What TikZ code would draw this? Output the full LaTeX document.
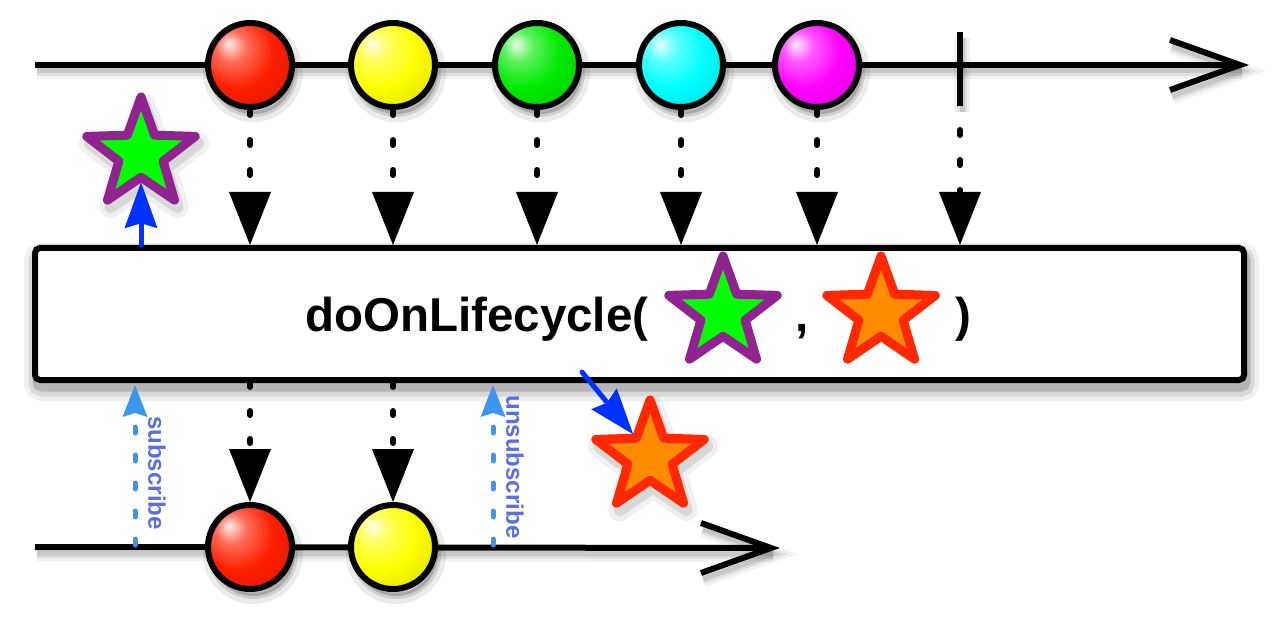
\documentclass[tikz,border=0pt]{standalone}
\usepackage{fontspec}
\setsansfont{Liberation Sans}
\usetikzlibrary{arrows.meta,shapes.geometric}
\definecolor{starpurple}{RGB}{145,35,145}
\definecolor{stargreen}{RGB}{0,255,0}
\definecolor{starorange}{RGB}{255,140,0}
\definecolor{starred}{RGB}{255,40,0}
\definecolor{arrowblue}{RGB}{0,50,255}
\definecolor{subblue}{RGB}{60,150,240}
\definecolor{labelblue}{RGB}{90,110,230}
\definecolor{mred}{RGB}{255,30,0}
\definecolor{myellow}{RGB}{255,255,0}
\definecolor{mgreen}{RGB}{0,235,0}
\definecolor{mcyan}{RGB}{0,255,255}
\definecolor{mmagenta}{RGB}{255,0,255}
\makeatletter
\pgfdeclareradialshading[tikz@ball]{softball}{\pgfqpoint{-13bp}{13bp}}{%
 color(0bp)=(tikz@ball!8!white); color(9bp)=(tikz@ball!65!white); color(22bp)=(tikz@ball); color(40bp)=(tikz@ball!85!black); color(60bp)=(tikz@ball!50!black)}
\makeatother
\begin{document}
\begin{tikzpicture}[x=1pt,y=-1pt,
  timeline/.style={line width=6pt,
    preaction={draw=black, line width=16pt, opacity=0.05, transform canvas={shift={(2pt,-6pt)}}},
    preaction={draw=black, line width=10pt, opacity=0.08, transform canvas={shift={(2pt,-6pt)}}},
    preaction={draw=black, line width=5pt, opacity=0.10, transform canvas={shift={(2pt,-6pt)}}}},
  marble/.style={circle, draw=black, line width=6pt, minimum size=84pt, inner sep=0pt, ball color=#1, shading=softball,
    preaction={fill=black, opacity=0.08, transform canvas={shift={(3pt,-7pt)}}, draw=black, line width=16pt},
    preaction={fill=black, opacity=0.12, transform canvas={shift={(3pt,-7pt)}}, draw=black, line width=6pt}},
  dotarrow/.style={line width=6pt, line cap=round, dash pattern=on 5pt off 25pt, -{Triangle[length=53pt,width=42pt,line width=0pt]}},
  dotarrowb/.style={line width=6pt, line cap=round, dash pattern=on 4pt off 24pt, -{Triangle[length=53pt,width=42pt,line width=0pt]}},
  opbox/.style={draw=black, fill=white, line width=6pt, rounded corners=5pt, minimum width=1209pt, minimum height=132pt, inner sep=0pt,
    preaction={draw=black, line width=26pt, opacity=0.06, transform canvas={shift={(2pt,-8pt)}}},
    preaction={draw=black, line width=17pt, opacity=0.10, transform canvas={shift={(2pt,-8pt)}}},
    preaction={draw=black, line width=9pt, opacity=0.16, transform canvas={shift={(2pt,-7pt)}}}},
  optext/.style={font=\sffamily\bfseries\fontsize{47.5pt}{50pt}\selectfont, inner sep=0pt},
  starbase/.style={star, star points=5, star point ratio=2.45, minimum size=114pt, inner sep=0pt, outer sep=0pt, line width=9pt, line join=round},
  starshadow/.style={preaction={draw=black, line width=22pt, opacity=0.06, transform canvas={shift={(3pt,-7pt)}}},
    preaction={draw=black, line width=12pt, opacity=0.10, transform canvas={shift={(3pt,-7pt)}}}},
  gstar/.style={starbase, draw=starpurple, fill=stargreen},
  ostar/.style={starbase, draw=starred, fill=starorange},
  bluearrow/.style={draw=arrowblue, line width=5pt, line cap=round, shorten >=5pt, -{Stealth[length=46pt,width=33pt,inset=5pt,line width=0pt]}},
  subarrow/.style={draw=subblue, line width=5pt, line cap=round, dash pattern=on 6pt off 22pt, shorten >=2pt, -{Stealth[length=32pt,width=25pt,inset=4pt,line width=0pt]}},
  lbl/.style={font=\sffamily\bfseries\fontsize{24pt}{26pt}\selectfont, text=labelblue, inner sep=0pt}
]
\useasboundingbox (0,0) rectangle (1280,620);

% operator box
\node[opbox] (op) at (639.5,314) {};

% top timeline
\coordinate (ts) at (35,65);
\coordinate (te) at (1240,65);
\draw[timeline] (ts) -- (te);
\draw[timeline] (te) ++(-70,-25) -- (te) -- ++(-70,25);
\coordinate (cb) at (960,65);
\draw[timeline] (cb) ++(0,-33) -- ++(0,74);

% bottom timeline
\coordinate (bs0) at (35,547);
\coordinate (be) at (771,548);
\draw[timeline] (bs0) -- (be);
\draw[timeline] (be) ++(-70,-25) -- (be) -- ++(-70,25);

% marbles
\node[marble=mred] (a1) at (250,65) {};
\node[marble=myellow] (a2) at (393,65) {};
\node[marble=mgreen] (a3) at (537,65) {};
\node[marble=mcyan] (a4) at (681,65) {};
\node[marble=mmagenta] (a5) at (817,65) {};
\node[marble=mred] (b1) at (250,547) {};
\node[marble=myellow] (b2) at (393,547) {};

% dotted arrows into operator
\foreach \n in {a1,a2,a3,a4,a5}
  \draw[dotarrow] (\n.south) -- (\n.south |- op.north);
\coordinate (cbd) at (960,130);
\draw[dotarrow] (cbd) -- (cbd |- op.north);

% dotted arrows out of operator
\foreach \n in {b1,b2}
  \draw[dotarrowb] (\n.north |- op.south) -- (\n.north);

% operator label
\node[optext, anchor=base west] (t1) at (305,331) {doOnLifecycle(};
\node[gstar] (s2) at (723,313) {};
\node[optext, anchor=base west] (t2) at (795,331) {,};
\node[ostar] (s3) at (881,313) {};
\node[optext, anchor=base west] (t3) at (955,331) {)};

% emitted stars
\node[gstar, starshadow] (s1) at (141,154) {};
\node[ostar, starshadow] (s4) at (650,457) {};
\draw[bluearrow] (op.north -| s1.south) -- (s1.south);
\coordinate (bsrc) at (582,372);
\draw[bluearrow] (bsrc) -- (s4.126);

% subscribe / unsubscribe
\coordinate (sub) at (135,545);
\draw[subarrow] (sub) -- (sub |- op.south);
\node[lbl, rotate=-90] (ls) at (157,473) {subscribe};
\coordinate (unsub) at (493,545);
\draw[subarrow] (unsub) -- (unsub |- op.south);
\node[lbl, rotate=-90] (lu) at (515,467) {unsubscribe};
\end{tikzpicture}
\end{document}
